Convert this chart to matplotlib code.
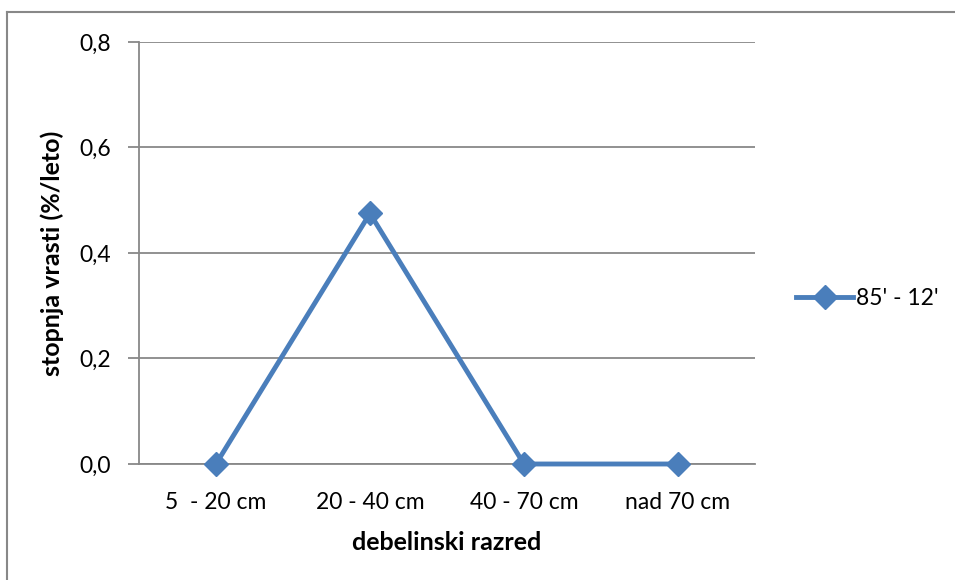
import matplotlib.pyplot as plt
from matplotlib.lines import Line2D

razredi = ["5  - 20 cm", "20 - 40 cm", "40 - 70 cm", "nad 70 cm"]
vrast = [0.0, 0.475, 0.0, 0.0]
y_ticks = [0.0, 0.2, 0.4, 0.6, 0.8]
serija = "85' - 12'"

plt.rcParams["font.family"] = ["Lato", "DejaVu Sans"]
blue = "#4A7EBB"
gray = "#888888"

fig = plt.figure(figsize=(9.55, 5.8), dpi=100)
ax = fig.add_axes([0.1455, 0.2, 0.645, 0.7276])

x = range(len(razredi))
ax.plot(x, vrast, color=blue, linewidth=3.5, marker="D", markersize=12,
        markerfacecolor=blue, markeredgecolor=blue, clip_on=False, zorder=3)

ax.set_xlim(-0.5, len(razredi) - 0.5)
ax.set_ylim(0, 0.8)
ax.set_yticks(y_ticks)
ax.set_yticklabels([f"{v:.1f}".replace(".", ",") for v in y_ticks])
ax.set_xticks(list(x))
ax.set_xticklabels(razredi)

ax.grid(axis="y", color=gray, linewidth=1.3)
ax.set_axisbelow(True)
for side in ["top", "right"]:
    ax.spines[side].set_visible(False)
for side in ["left", "bottom"]:
    ax.spines[side].set_color(gray)
    ax.spines[side].set_linewidth(1.3)
ax.tick_params(axis="y", length=8, width=1.3, color=gray, labelsize=16.5, pad=12)
ax.tick_params(axis="x", length=0, labelsize=16.5, pad=20)

ax.set_ylabel("stopnja vrasti (%/leto)", fontsize=18, fontweight="bold", labelpad=11)
ax.set_xlabel("debelinski razred", fontsize=18, fontweight="bold", labelpad=13)

handle = Line2D([], [], color=blue, linewidth=3.5, marker="D", markersize=12)
fig.legend([handle], [serija], loc="center left", bbox_to_anchor=(0.812, 0.485),
           frameon=False, fontsize=16.5, handlelength=2.5, handletextpad=0.1)

# chart frame
fig.add_artist(Line2D([0.0073, 0.0073], [0, 0.979], color=gray, linewidth=1.5))
fig.add_artist(Line2D([0.0073, 1], [0.979, 0.979], color=gray, linewidth=1.5))

fig.savefig("out.png", dpi=100)
